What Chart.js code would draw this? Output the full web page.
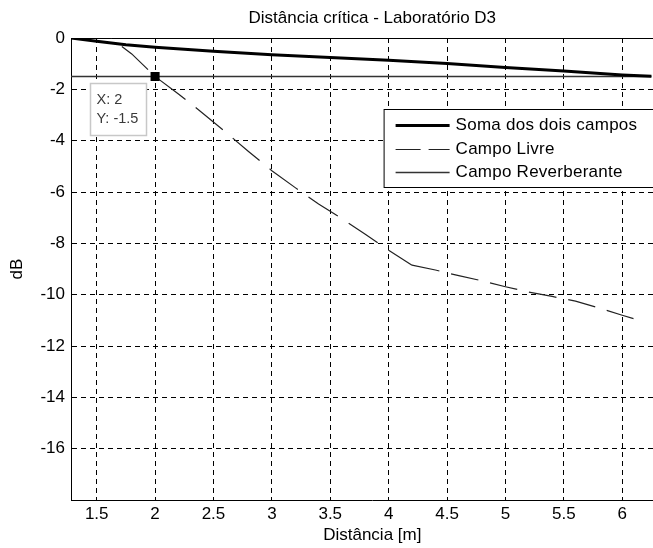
<!DOCTYPE html>
<html lang="pt">
<head>
<meta charset="utf-8">
<title>Distância crítica - Laboratório D3</title>
<script src="https://cdn.jsdelivr.net/npm/chart.js@4.4.1/dist/chart.umd.min.js"></script>
<style>
  html, body { margin: 0; padding: 0; background: #fff; }
  /* the reference is cropped on the right, so the plot runs past the window */
  #frame { width: 653px; height: 548px; overflow: hidden; }
</style>
</head>
<body>
<div id="frame"><canvas id="chart" width="680" height="548"></canvas></div>
<script>
// Values (distance in m, level in dB)
const somaDist = [1.28, 1.5, 1.75, 2.0, 2.5, 3.0, 3.5, 4.0, 4.5, 5.0, 5.5, 6.0, 6.25];
const somaDb   = [0, -0.13, -0.26, -0.36, -0.52, -0.65, -0.76, -0.87, -0.99, -1.15, -1.29, -1.44, -1.49];

const livreDist = [1.62, 1.8, 2.0, 2.2, 2.4, 2.6, 2.8, 3.0, 3.2, 3.4, 3.6, 3.8, 4.0, 4.2,
                   4.4, 4.6, 4.8, 5.0, 5.2, 5.4, 5.6, 5.8, 6.0, 6.17];
const livreDb   = [0, -0.62, -1.5, -2.18, -2.9, -3.65, -4.42, -5.17, -5.83, -6.47, -7.04, -7.65, -8.27, -8.85,
                   -9.04, -9.26, -9.46, -9.69, -9.9, -10.07, -10.25, -10.52, -10.8, -11.03];

const revDist = [1.28, 6.25];
const revDb   = [-1.5, -1.5];

// data cursor shown on the figure
const tipPoint = [2, -1.5];

const xTicks = [1.5, 2, 2.5, 3, 3.5, 4, 4.5, 5, 5.5, 6];
const yTicks = [0, -2, -4, -6, -8, -10, -12, -14, -16];

const FONT = "'Liberation Sans', Arial, sans-serif";

const pts = (xs, ys) => xs.map((x, i) => ({ x: x, y: ys[i] }));

// Legend drawn as a boxed list inside the axes (top right), like the original
const legendBox = {
  id: 'legendBox',
  afterDatasetsDraw(chart) {
    const { ctx, chartArea } = chart;
    const right = chartArea.right - 19;
    const left = right - 271;
    const top = chartArea.top + 71;
    const height = 78;
    ctx.save();
    ctx.fillStyle = '#fff';
    ctx.fillRect(left, top, right - left, height);
    ctx.strokeStyle = '#000';
    ctx.lineWidth = 1;
    ctx.strokeRect(left + 0.5, top + 0.5, right - left, height);
    ctx.font = '17px ' + FONT;
    ctx.letterSpacing = '0.25px';
    ctx.textBaseline = 'middle';
    chart.data.datasets.filter(ds => ds.inLegend !== false).forEach((ds, i) => {
      const y = Math.round(top + 16 + i * 23.5) + 0.5;
      ctx.beginPath();
      ctx.setLineDash(ds.legendDash || []);
      ctx.lineWidth = ds.borderWidth;
      ctx.strokeStyle = ds.borderColor;
      ctx.moveTo(left + 12, y);
      ctx.lineTo(left + 66, y);
      ctx.stroke();
      ctx.setLineDash([]);
      ctx.fillStyle = '#000';
      ctx.fillText(ds.label, left + 72, y);
    });
    ctx.restore();
  }
};

// Datatip box under the marked point
const dataTip = {
  id: 'dataTip',
  afterDatasetsDraw(chart) {
    const { ctx, scales } = chart;
    const px = scales.x.getPixelForValue(tipPoint[0]);
    const py = scales.y.getPixelForValue(tipPoint[1]);
    const left = Math.round(px - 65) + 0.5;
    const top = Math.round(py + 6) + 0.5;
    ctx.save();
    ctx.fillStyle = '#fff';
    ctx.strokeStyle = '#c8c8c8';
    ctx.lineWidth = 1.5;
    ctx.fillRect(left, top, 56, 52);
    ctx.strokeRect(left, top, 56, 52);
    ctx.fillStyle = '#3a3a3a';
    ctx.font = '14.5px ' + FONT;
    ctx.textBaseline = 'middle';
    ctx.fillText('X: ' + tipPoint[0], left + 6, top + 16);
    ctx.fillText('Y: ' + tipPoint[1], left + 6, top + 35);
    ctx.restore();
  }
};

new Chart(document.getElementById('chart'), {
  type: 'line',
  data: {
    datasets: [
      {
        label: 'Soma dos dois campos',
        data: pts(somaDist, somaDb),
        borderColor: '#000',
        borderWidth: 3
      },
      {
        label: 'Campo Livre',
        data: pts(livreDist, livreDb),
        borderColor: '#222',
        borderWidth: 1.2,
        borderDash: [31, 12],
        legendDash: [25, 8],
        segment: {
          // dashes look longer on the steep part in the original
          borderDash: ctx => ctx.p0.parsed.x < 4.2 ? [35, 13] : [28, 12],
          borderDashOffset: ctx => ctx.p0.parsed.x < 4.2 ? 34 : 0
        }
      },
      {
        label: 'Campo Reverberante',
        data: pts(revDist, revDb),
        borderColor: '#333',
        borderWidth: 1.5
      },
      {
        label: 'cursor',
        inLegend: false,
        data: pts([tipPoint[0]], [tipPoint[1]]),
        showLine: false,
        pointStyle: 'rect',
        pointRadius: 6.4,
        pointHoverRadius: 6.4,
        pointBackgroundColor: '#000',
        pointBorderColor: '#000',
        pointBorderWidth: 0,
        order: -1
      }
    ]
  },
  options: {
    responsive: false,
    animation: false,
    devicePixelRatio: 1,
    events: [],
    layout: { padding: { top: 0, right: 1, bottom: 0, left: 0 } },
    elements: {
      point: { radius: 0, hoverRadius: 0 },
      line: { tension: 0, fill: false }
    },
    plugins: {
      legend: { display: false },
      tooltip: { enabled: false },
      title: {
        display: true,
        text: 'Distância crítica - Laboratório D3',
        fullSize: false,
        color: '#000',
        font: { family: FONT, size: 17, weight: 'normal' },
        padding: { top: 8, bottom: 9.6 }
      }
    },
    scales: {
      x: {
        type: 'linear',
        position: 'bottom',
        min: 1.28,
        max: 6.44,
        afterBuildTicks: scale => { scale.ticks = xTicks.map(v => ({ value: v })); },
        afterFit: scale => { scale.height = 48; },
        grid: { color: '#000', lineWidth: 1, drawTicks: false },
        border: { display: true, color: '#000', width: 1, dash: [5, 4] },
        ticks: {
          padding: 4,
          color: '#000',
          font: { family: FONT, size: 17 },
          maxRotation: 0,
          callback: v => String(v)
        },
        title: {
          display: true,
          text: 'Distância [m]',
          color: '#000',
          font: { family: FONT, size: 17 },
          padding: { top: 0, bottom: 2 }
        }
      },
      x2: {
        type: 'linear',
        position: 'top',
        min: 1.28,
        max: 6.44,
        afterFit: scale => { scale.height = 0; },
        grid: { display: false, drawTicks: false },
        ticks: { display: false },
        border: { display: true, color: '#000', width: 1 }
      },
      y: {
        type: 'linear',
        min: -18,
        max: 0,
        afterBuildTicks: scale => { scale.ticks = yTicks.map(v => ({ value: v })); },
        afterFit: scale => { scale.width = 71; },
        grid: { color: '#000', lineWidth: 1, drawTicks: false },
        border: { display: true, color: '#000', width: 1, dash: [5, 4] },
        ticks: {
          padding: 6,
          color: '#000',
          font: { family: FONT, size: 17 },
          callback: v => String(v)
        },
        title: {
          display: true,
          text: 'dB',
          color: '#000',
          font: { family: FONT, size: 17 },
          padding: { top: 7, bottom: 0 }
        }
      }
    }
  },
  plugins: [legendBox, dataTip]
});
</script>
</body>
</html>
